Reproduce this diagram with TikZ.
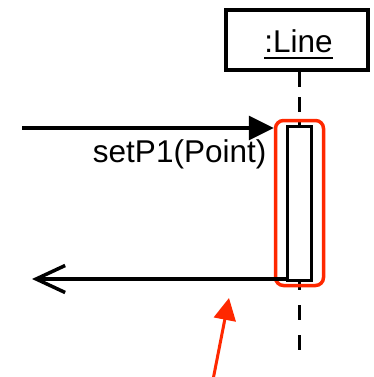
\documentclass[tikz,border=0pt]{standalone}
\usepackage{fontspec}
\setmainfont{Liberation Sans}
\usetikzlibrary{arrows.meta}
\definecolor{hired}{RGB}{255,40,0}
\begin{document}
\begin{tikzpicture}[x=1pt,y=-1pt,
  objbox/.style={draw,line width=4.5pt,minimum width=142pt,minimum height=60pt,inner sep=0pt},
  actbox/.style={draw,fill=white,line width=3.5pt,minimum width=24pt,minimum height=154pt,inner sep=0pt},
  hlbox/.style={draw=hired,line width=3.5pt,rounded corners=8pt,minimum width=48pt,minimum height=165pt,inner sep=0pt},
  lifeline/.style={line width=3.5pt},
  msg/.style={line width=3.5pt},
  lbl/.style={inner sep=0pt,font=\fontsize{31.5}{36}\selectfont}]
\useasboundingbox (0,0) rectangle (373,377);
% object box and its name
\node[objbox] (obj) at (297,40) {};
\node[lbl,anchor=base] (objname) at (298.5,53) {:Line};
\draw[line width=2pt] ([yshift=-5pt]objname.base west) -- ([yshift=-5pt]objname.base east);
% lifeline, activation bar and highlight
\node[actbox] (act) at (299.5,203.5) {};
\coordinate (lifeend) at (299.5,350);
\draw[lifeline,dash pattern=on 15pt off 10pt] (obj.south -| act.north) -- (act.north);
\draw[lifeline,dash pattern=on 15pt off 15pt] ([yshift=7pt]act.south) -- (lifeend);
\node[actbox] (act2) at (act) {};
\node[hlbox] (hl) at (299.5,203) {};
% incoming call
\coordinate (caller) at (22,128);
\draw[msg,-{Triangle[length=25pt,width=24pt]}] (caller) -- (caller -| hl.west);
\node[lbl,anchor=base east] (calllbl) at (266.5,162) {setP1(Point)};
% return message
\coordinate (retend) at (32,279);
\draw[msg,-{Straight Barb[length=29pt,width=27pt,line width=3.5pt]}] (retend -| act.west) -- (retend);
% pointer arrow
\coordinate (ptail) at (212,385);
\coordinate (ptip) at (229,298);
\draw[hired,line width=3pt,-{Triangle[length=22pt,width=22pt]}] (ptail) -- (ptip);
\end{tikzpicture}
\end{document}
